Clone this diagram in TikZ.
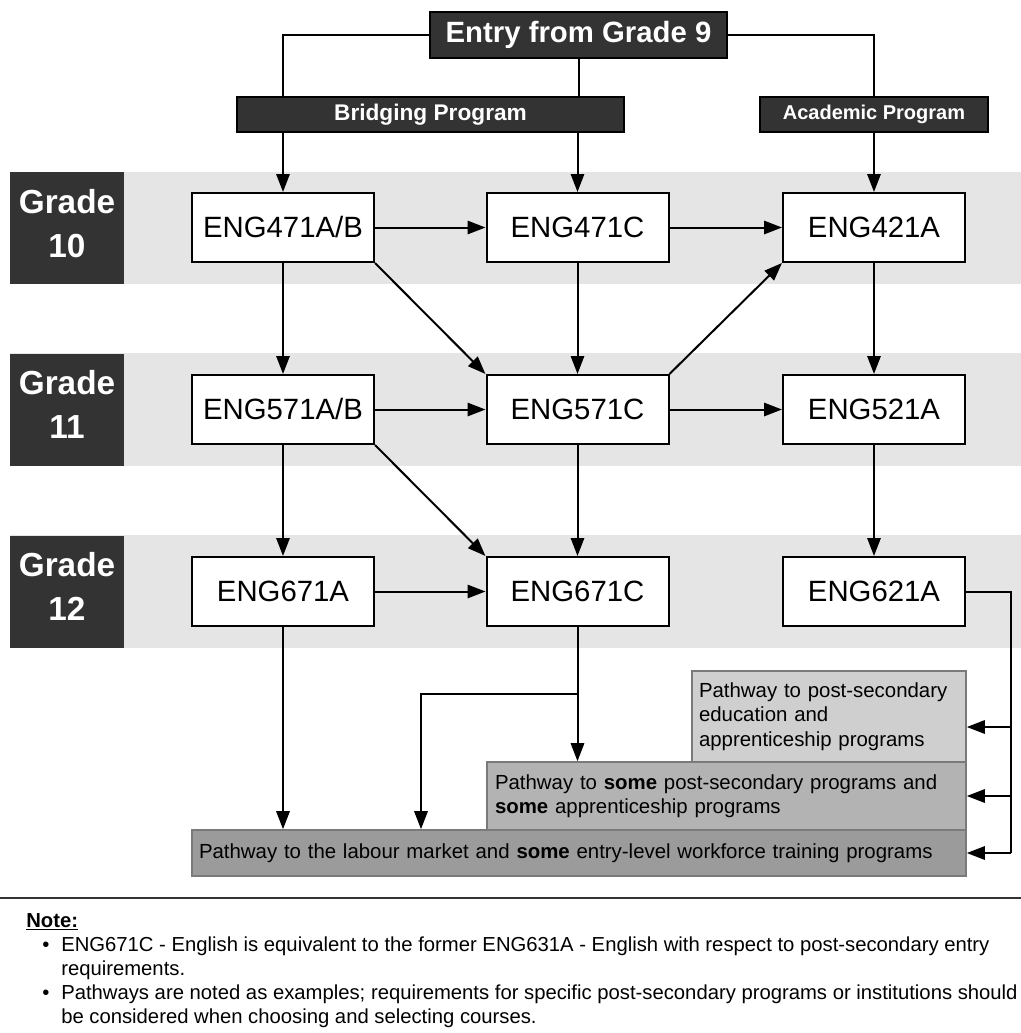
\documentclass[tikz,border=0pt]{standalone}
\usepackage{fontspec}
\setmainfont{Liberation Sans}
\usetikzlibrary{arrows.meta,calc}
\definecolor{dark}{HTML}{333333}
\definecolor{bandgray}{HTML}{E5E5E5}
\definecolor{pA}{HTML}{CFCFCF}
\definecolor{pB}{HTML}{B3B3B3}
\definecolor{pC}{HTML}{9B9B9B}
\definecolor{pborder}{HTML}{7A7A7A}
\begin{document}
\begin{tikzpicture}[x=0.75pt,y=-0.75pt,
  course/.style={draw=black, line width=1.5pt, fill=white, minimum width=136.5pt, minimum height=51.75pt, inner sep=0pt, font=\fontsize{22}{26}\selectfont},
  darkbox/.style={fill=dark, draw=black, line width=1pt, text=white, inner sep=0pt},
  gradebox/.style={fill=dark, text=white, inner sep=0pt, minimum width=85.5pt, minimum height=84pt, align=center, font=\bfseries\fontsize{25}{33}\selectfont},
  pathbox/.style={draw=pborder, line width=1.2pt, align=left, inner ysep=0pt, font=\fontsize{15.3}{18.4}\selectfont},
  ln/.style={line width=1.5pt},
  arr/.style={line width=1.5pt, -{Triangle[length=13.5pt,width=10pt]}}
]
\useasboundingbox (0,0) rectangle (1021,1033);
% grade bands
\fill[bandgray] (10,172) rectangle (1021,284);
\fill[bandgray] (10,353) rectangle (1021,466);
\fill[bandgray] (10,535) rectangle (1021,648);
\node[gradebox] (g10) at (67,228) {Grade\\10\rule[-7.5pt]{0pt}{0pt}};
\node[gradebox] (g11) at (67,409.5) {Grade\\11\rule[-7.5pt]{0pt}{0pt}};
\node[gradebox] (g12) at (67,591.5) {Grade\\12\rule[-7.5pt]{0pt}{0pt}};
% top boxes
\node[darkbox, minimum width=222.75pt, minimum height=34.5pt, font=\bfseries\fontsize{22}{26}\selectfont] (entry) at (578.5,35) {Entry from Grade 9};
\node[darkbox, minimum width=290.25pt, minimum height=26.25pt, font=\bfseries\fontsize{17}{20}\selectfont] (bridge) at (430.5,114.5) {Bridging Program};
\node[darkbox, minimum width=171pt, minimum height=26.25pt, font=\bfseries\fontsize{15}{18}\selectfont] (acad) at (874,114.5) {Academic Program};
% course boxes
\node[course] (c471ab) at (283,227.5) {ENG471A/B};
\node[course] (c471c) at (577.5,227.5) {ENG471C};
\node[course] (c421a) at (874,227.5) {ENG421A};
\node[course] (c571ab) at (283,409.5) {ENG571A/B};
\node[course] (c571c) at (577.5,409.5) {ENG571C};
\node[course] (c521a) at (874,409.5) {ENG521A};
\node[course] (c671a) at (283,591.5) {ENG671A};
\node[course] (c671c) at (577.5,591.5) {ENG671C};
\node[course] (c621a) at (874,591.5) {ENG621A};
% pathway boxes
\node[pathbox, fill=pA, minimum width=205.5pt, minimum height=68.25pt, inner xsep=5.25pt, text width=195pt] (post) at (829,716.5) {Pathway to post-secondary\\education and\\apprenticeship programs};
\node[pathbox, fill=pB, minimum width=359.25pt, minimum height=51pt, inner xsep=6pt, text width=347.25pt] (some) at (726.5,796) {Pathway to \textbf{some} post-secondary programs and\\\textbf{some} apprenticeship programs};
\node[pathbox, fill=pC, minimum width=580.5pt, minimum height=34.5pt, inner xsep=5.25pt, text width=570pt] (labour) at (579,853) {Pathway to the labour market and \textbf{some} entry-level workforce training programs};
% connectors from top
\draw[ln] (entry.west) -| (bridge.north -| c471ab);
\draw[ln] (entry.south) -- (bridge.north -| entry.south);
\draw[ln] (entry.east) -| (acad.north);
\draw[arr] (bridge.south -| c471ab) -- (c471ab.north);
\draw[arr] (bridge.south -| c471c) -- (c471c.north);
\draw[arr] (acad.south) -- (c421a.north);
% row connections
\draw[arr] (c471ab.east) -- (c471c.west);
\draw[arr] (c471c.east) -- (c421a.west);
\draw[arr] (c571ab.east) -- (c571c.west);
\draw[arr] (c571c.east) -- (c521a.west);
\draw[arr] (c671a.east) -- (c671c.west);
% vertical
\draw[arr] (c471ab.south) -- (c571ab.north);
\draw[arr] (c471c.south) -- (c571c.north);
\draw[arr] (c421a.south) -- (c521a.north);
\draw[arr] (c571ab.south) -- (c671a.north);
\draw[arr] (c571c.south) -- (c671c.north);
\draw[arr] (c521a.south) -- (c621a.north);
% diagonals
\draw[arr] (c471ab.south east) -- (c571c.north west);
\draw[arr] (c571c.north east) -- (c421a.south west);
\draw[arr] (c571ab.south east) -- (c671c.north west);
% to pathways
\coordinate (split) at (577.5,694);
\coordinate (bend) at (421,694);
\coordinate (rtop) at (1011,591.5);
\coordinate (rA) at (1011,727);
\coordinate (rbot) at (1011,853);
\draw[arr] (c671a.south) -- (labour.north -| c671a);
\draw[ln] (c671c.south) -- (split);
\draw[arr] (split) -- (some.north -| split);
\draw[arr] (split) -- (bend) -- (labour.north -| bend);
\draw[ln] (c621a.east) -- (rtop) -- (rbot);
\draw[arr] (rA) -- (post.east |- rA);
\draw[arr] (rtop |- some.east) -- (some.east);
\draw[arr] (rbot) -- (labour.east);
% note
\draw[line width=1.5pt, draw=dark] (0,898) -- (1021,898);
\node[anchor=base west, inner sep=0pt, font=\fontsize{15.2}{18}\selectfont] (note) at (26,927) {%
\begin{tabular}[t]{@{}l@{}l@{}}
\multicolumn{2}{@{}l@{}}{\textbf{\underline{Note:}}}\\
\makebox[26.25pt][l]{\hspace{12pt}•} & ENG671C - English is equivalent to the former ENG631A - English with respect to post-secondary entry\\
 & requirements.\\
\makebox[26.25pt][l]{\hspace{12pt}•} & Pathways are noted as examples; requirements for specific post-secondary programs or institutions should\\
 & be considered when choosing and selecting courses.
\end{tabular}};
\end{tikzpicture}
\end{document}
